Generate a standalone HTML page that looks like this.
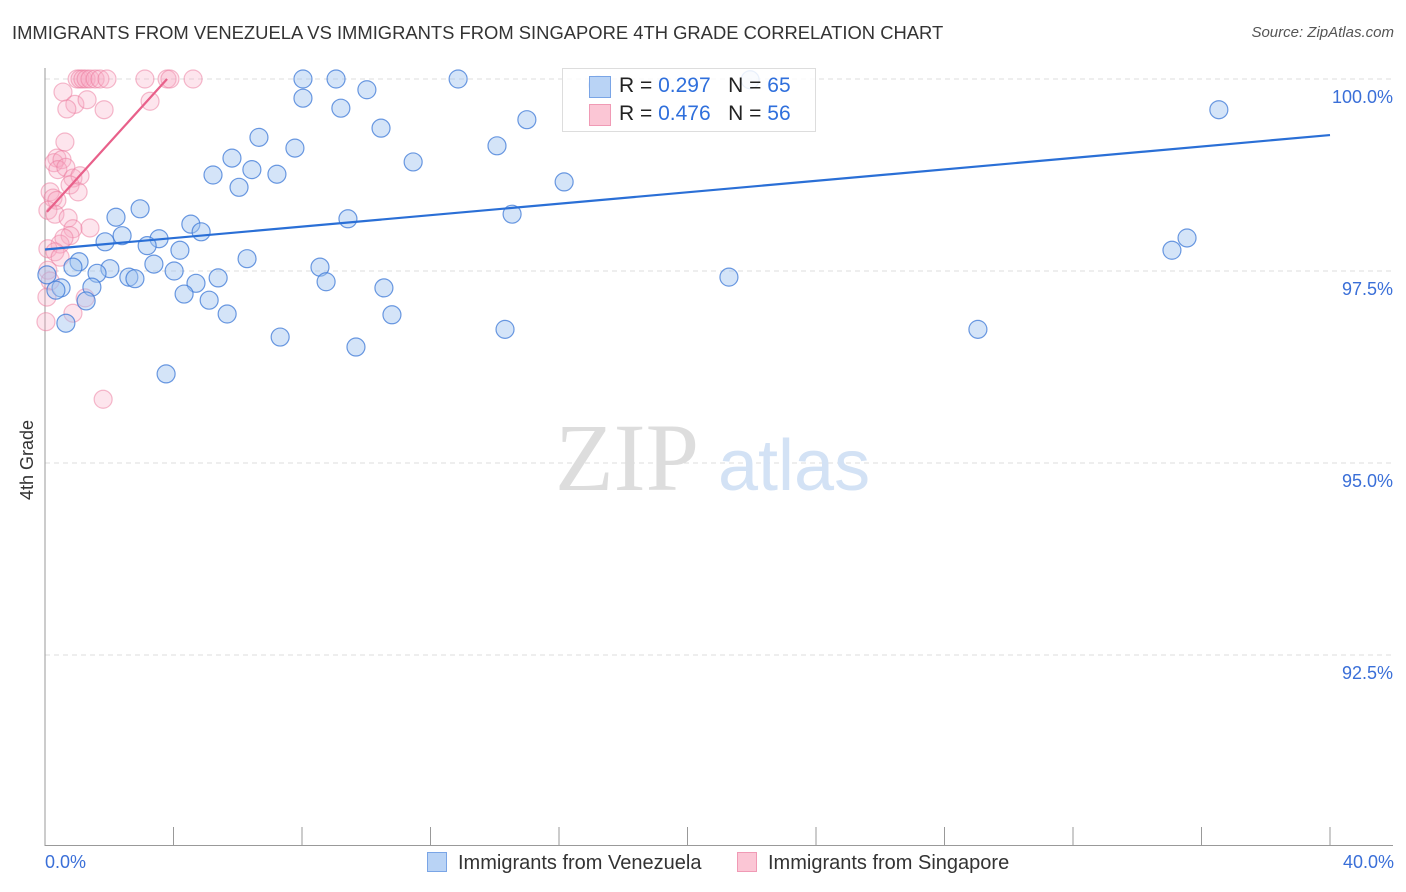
<!DOCTYPE html>
<html><head><meta charset="utf-8"><style>
body{margin:0;background:#fff;font-family:"Liberation Sans",sans-serif;}
#wrap{position:relative;width:1406px;height:892px;overflow:hidden;}
.t{position:absolute;white-space:nowrap;}
</style></head><body>
<div id="wrap">
<div class="t" style="left:12px;top:22px;font-size:18.4px;color:#333">IMMIGRANTS FROM VENEZUELA VS IMMIGRANTS FROM SINGAPORE 4TH GRADE CORRELATION CHART</div>
<div class="t" style="right:12px;top:24px;font-size:15px;color:#555;font-style:italic">Source: ZipAtlas.com</div>
<div class="t" style="left:17px;top:500px;font-size:18px;color:#333;transform:rotate(-90deg);transform-origin:0 0">4th Grade</div>
<svg id="svg" width="1406" height="892" style="position:absolute;left:0;top:0"></svg>
<div class="t" style="left:562px;top:68px;width:252px;height:62px;border:1px solid #ddd;background:rgba(255,255,255,0.85)">
 <div style="position:absolute;left:26px;top:7px;width:20px;height:20px;background:#b9d3f5;border:1px solid #7aa5e6"></div>
 <div style="position:absolute;left:26px;top:35px;width:20px;height:20px;background:#fbc6d5;border:1px solid #f09ab5"></div>
 <div class="t" style="left:56px;top:5px;font-size:21px;color:#222">R = <span style="color:#2f6fdc">0.297</span>&nbsp;&nbsp;&nbsp;N = <span style="color:#2f6fdc">65</span></div>
 <div class="t" style="left:56px;top:33px;font-size:21px;color:#222">R = <span style="color:#2f6fdc">0.476</span>&nbsp;&nbsp;&nbsp;N = <span style="color:#2f6fdc">56</span></div>
</div>
<div class="t" style="left:45px;top:852px;font-size:18px;color:#3a6fd8">0.0%</div>
<div class="t" style="right:12px;top:852px;font-size:18px;color:#3a6fd8">40.0%</div>
<div class="t" style="left:427px;top:852px;font-size:20px;color:#333"><span style="display:inline-block;width:18px;height:18px;background:#b9d3f5;border:1px solid #7aa5e6;vertical-align:-3px;margin-right:11px"></span>Immigrants from Venezuela</div>
<div class="t" style="left:737px;top:852px;font-size:20px;color:#333"><span style="display:inline-block;width:18px;height:18px;background:#fbc6d5;border:1px solid #f09ab5;vertical-align:-3px;margin-right:11px"></span>Immigrants from Singapore</div>
</div>
<script>
const blueX=[17.21,8.03,9.06,12.86,8.03,9.21,10.02,10.46,6.66,5.82,7.78,5.23,6.04,6.44,7.22,11.46,14.07,15.00,16.16,36.54,2.96,2.21,4.54,4.86,2.40,1.87,3.55,3.18,4.20,9.43,14.54,35.55,35.08,1.06,0.87,3.39,6.29,2.02,1.62,4.02,2.61,2.80,5.39,8.56,8.75,4.70,4.33,5.11,1.46,0.50,0.34,1.28,10.55,10.80,5.67,0.65,7.32,9.68,14.32,21.29,29.04,3.77,0.06,21.95];
const blueY=[99.92,100,100,100,99.75,99.62,99.86,99.36,99.24,98.97,99.10,98.75,98.59,98.82,98.76,98.92,99.13,99.47,98.66,99.60,98.31,98.20,98.11,98.01,97.96,97.88,97.92,97.83,97.77,98.18,98.24,97.93,97.77,97.62,97.55,97.59,97.66,97.53,97.47,97.50,97.42,97.40,97.41,97.55,97.36,97.34,97.20,97.12,97.29,97.28,97.25,97.11,97.28,96.93,96.94,96.82,96.64,96.51,96.74,97.42,96.74,96.16,97.45,99.99];
const pinkX=[1.00,1.09,1.18,1.28,1.40,1.56,1.71,1.93,3.11,3.80,3.89,4.61,0.56,1.84,0.93,0.68,1.31,0.62,3.27,0.37,0.28,0.53,0.40,0.65,0.87,1.09,0.78,1.03,0.16,0.25,0.37,0.09,0.31,0.72,1.40,0.87,0.78,0.47,0.59,0.09,0.31,0.47,0.09,0.16,0.06,1.25,0.87,0.03,1.81];
const pinkY=[100,100,100,100,100,100,100,100,100,100,100,100,99.83,99.60,99.67,99.61,99.73,99.18,99.71,98.97,98.91,98.95,98.82,98.85,98.71,98.74,98.62,98.53,98.53,98.45,98.42,98.29,98.24,98.19,98.06,98.05,97.96,97.85,97.93,97.79,97.75,97.68,97.51,97.37,97.16,97.15,96.95,96.84,95.83];
const blueTrend=[[0,97.78],[40,99.27]];
const pinkTrend=[[0.06,98.27],[3.8,100]];
const yTicks=[100,97.5,95,92.5];
const yTickLabels=["100.0%","97.5%","95.0%","92.5%"];
const xTicks=[0,4,8,12,16,20,24,28,32,36,40];
const sx=v=>45+v*32.125, sy=v=>79+(100-v)*76.8;
const svg=document.getElementById('svg'),NS='http://www.w3.org/2000/svg';
function mk(t,a,name){const e=document.createElementNS(NS,t);for(const k in a)e.setAttribute(k,a[k]);svg.appendChild(e);return e;}
yTicks.forEach((v,i)=>{
 mk('line',{x1:45,x2:1393,y1:sy(v),y2:sy(v),stroke:'#ddd','stroke-dasharray':'5,4'},'gridline');
 const t=mk('text',{x:1393,y:sy(v)+24,'text-anchor':'end','font-size':18,fill:'#3a6fd8','font-family':'Liberation Sans'},'y-tick-label');
 t.textContent=yTickLabels[i];
});
mk('line',{x1:45,x2:45,y1:68,y2:846,stroke:'#999'},'y-axis');
mk('line',{x1:45,x2:1393,y1:845.5,y2:845.5,stroke:'#999'},'x-axis');
xTicks.forEach(v=>mk('line',{x1:sx(v),x2:sx(v),y1:827,y2:846,stroke:'#999'},'x-tick'));
const wm=mk('text',{x:555,y:490,'font-size':96,fill:'#ddd','font-family':'Liberation Serif'},'watermark-zip');wm.textContent='ZIP';
const wm2=mk('text',{x:718,y:490,'font-size':72,fill:'#d3e2f5','font-family':'Liberation Sans'},'watermark-atlas');wm2.textContent='atlas';
pinkX.forEach((x,i)=>mk('circle',{cx:sx(x),cy:sy(pinkY[i]),r:9,fill:'rgba(248,170,195,0.3)',stroke:'rgba(235,120,155,0.5)','stroke-width':1.2},'singapore-point'));
blueX.forEach((x,i)=>mk('circle',{cx:sx(x),cy:sy(blueY[i]),r:9,fill:'rgba(160,195,240,0.45)',stroke:'rgba(60,120,215,0.75)','stroke-width':1.2},'venezuela-point'));
mk('line',{x1:sx(blueTrend[0][0]),y1:sy(blueTrend[0][1]),x2:sx(blueTrend[1][0]),y2:sy(blueTrend[1][1]),stroke:'#2a6fd6','stroke-width':2.2},'venezuela-trendline');
mk('line',{x1:sx(pinkTrend[0][0]),y1:sy(pinkTrend[0][1]),x2:sx(pinkTrend[1][0]),y2:sy(pinkTrend[1][1]),stroke:'#e8608a','stroke-width':2.2},'singapore-trendline');
</script>
</body></html>
